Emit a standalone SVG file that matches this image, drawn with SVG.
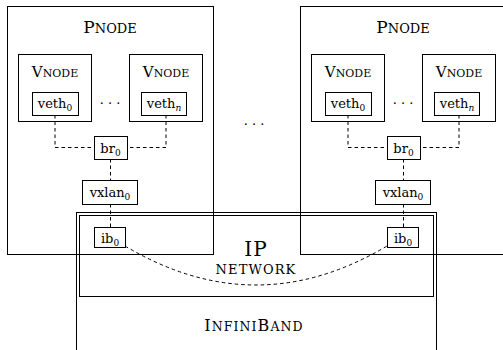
<svg xmlns="http://www.w3.org/2000/svg" width="503" height="350" viewBox="0 0 503 350" font-family="'DejaVu Serif', serif">
<style>
rect{fill:none;stroke:#000;stroke-width:1}
.box{fill:#fff}
text{font-family:'DejaVu Serif',serif;fill:#000}
.lbl{font-size:13px;text-anchor:middle}
.sub{font-size:9px}
.dash{fill:none;stroke:#000;stroke-width:1;stroke-dasharray:3.5,3}
</style>
<g id="infiniband">
<rect x="76.5" y="212.5" width="360" height="160" stroke="#444"/>
<text x="254" y="331" text-anchor="middle" letter-spacing="1.1"><tspan font-size="16">I</tspan><tspan font-size="12.5">NFINI</tspan><tspan font-size="16">B</tspan><tspan font-size="12.5">AND</tspan></text>
</g>
<g id="ipnetwork">
<rect x="79.5" y="215.5" width="354" height="81"/>
<text x="256" y="256" text-anchor="middle" font-size="20" letter-spacing="1">IP</text>
<text x="256" y="274" text-anchor="middle" font-size="13" letter-spacing="1.1">NETWORK</text>
</g>
<g id="pnode1">
<rect x="7.5" y="6.5" width="206" height="248"/>
<text x="110" y="33" text-anchor="middle"><tspan font-size="17">P</tspan><tspan font-size="13">NODE</tspan></text>
</g>
<g id="pnode2">
<rect x="300.5" y="6.5" width="210" height="248"/>
<text x="403" y="33" text-anchor="middle"><tspan font-size="17">P</tspan><tspan font-size="13">NODE</tspan></text>
</g>
<g id="middots"><text x="254" y="129" text-anchor="middle" font-size="13">· · ·</text></g>
<g id="connectors">
<path class="dash" d="M55,115 V147.5 H94 M166,115 V147.5 H127 M110.5,159 V180 M110.5,204 V227"/>
<path class="dash" d="M348,115 V147.5 H387 M459,115 V147.5 H420 M403.5,159 V180 M403.5,204 V227"/>
<path class="dash" d="M125,246 Q256,324 387,246"/>
</g>
<g id="vnode1a">
<rect x="18.5" y="54.5" width="73" height="67"/>
<text x="55" y="77" text-anchor="middle"><tspan font-size="15">V</tspan><tspan font-size="11">NODE</tspan></text>
</g>
<g id="veth1a"><rect class="box" x="32.5" y="92.5" width="46" height="23"/><text x="55" y="108" class="lbl">veth<tspan class="sub" dy="3">0</tspan></text></g>
<g id="vnode1b">
<rect x="129.5" y="54.5" width="73" height="67"/>
<text x="166" y="77" text-anchor="middle"><tspan font-size="15">V</tspan><tspan font-size="11">NODE</tspan></text>
</g>
<g id="veth1b"><rect class="box" x="141.5" y="92.5" width="45" height="23"/><text x="164" y="108" class="lbl">veth<tspan class="sub" dy="3" font-style="italic">n</tspan></text></g>
<g id="dots1"><text x="110" y="108" text-anchor="middle" font-size="13">· · ·</text></g>
<g id="br1"><rect class="box" x="94.5" y="136.5" width="33" height="23"/><text x="110.5" y="153" class="lbl">br<tspan class="sub" dy="3">0</tspan></text></g>
<g id="vxlan1"><rect class="box" x="82.5" y="180.5" width="55" height="24"/><text x="110" y="197" class="lbl">vxlan<tspan class="sub" dy="3">0</tspan></text></g>
<g id="ib1"><rect class="box" x="94.5" y="227.5" width="31" height="20"/><text x="110" y="243" class="lbl">ib<tspan class="sub" dy="3">0</tspan></text></g>
<g id="vnode2a">
<rect x="311.5" y="54.5" width="73" height="67"/>
<text x="348" y="77" text-anchor="middle"><tspan font-size="15">V</tspan><tspan font-size="11">NODE</tspan></text>
</g>
<g id="veth2a"><rect class="box" x="325.5" y="92.5" width="46" height="23"/><text x="348" y="108" class="lbl">veth<tspan class="sub" dy="3">0</tspan></text></g>
<g id="vnode2b">
<rect x="422.5" y="54.5" width="73" height="67"/>
<text x="459" y="77" text-anchor="middle"><tspan font-size="15">V</tspan><tspan font-size="11">NODE</tspan></text>
</g>
<g id="veth2b"><rect class="box" x="434.5" y="92.5" width="45" height="23"/><text x="457" y="108" class="lbl">veth<tspan class="sub" dy="3" font-style="italic">n</tspan></text></g>
<g id="dots2"><text x="403" y="108" text-anchor="middle" font-size="13">· · ·</text></g>
<g id="br2"><rect class="box" x="387.5" y="136.5" width="33" height="23"/><text x="403.5" y="153" class="lbl">br<tspan class="sub" dy="3">0</tspan></text></g>
<g id="vxlan2"><rect class="box" x="375.5" y="180.5" width="55" height="24"/><text x="403" y="197" class="lbl">vxlan<tspan class="sub" dy="3">0</tspan></text></g>
<g id="ib2"><rect class="box" x="387.5" y="227.5" width="31" height="20"/><text x="403" y="243" class="lbl">ib<tspan class="sub" dy="3">0</tspan></text></g>
</svg>
